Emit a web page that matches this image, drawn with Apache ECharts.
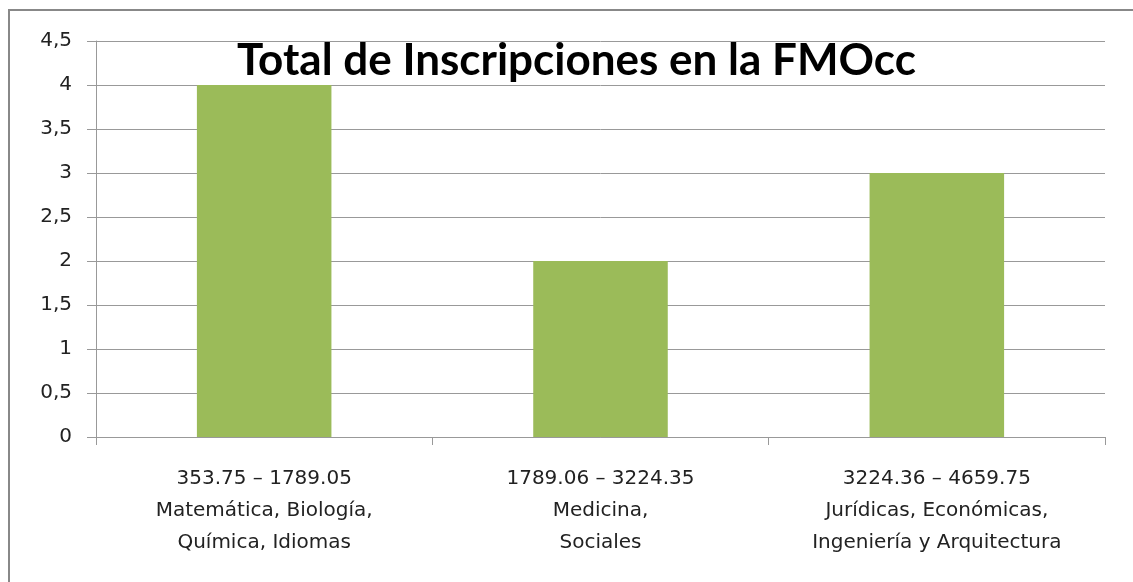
<!DOCTYPE html>
<html>
<head>
<meta charset="utf-8">
<script src="https://cdn.jsdelivr.net/npm/echarts@6/dist/echarts.min.js"></script>
<style>
  html, body { margin: 0; padding: 0; background: #fff; }
  #main { width: 1133px; height: 582px; }
</style>
</head>
<body>
<div id="main"></div>
<script>
const categories = [
  '353.75 – 1789.05\nMatemática, Biología,\nQuímica, Idiomas',
  '1789.06 – 3224.35\nMedicina,\nSociales',
  '3224.36 – 4659.75\nJurídicas, Económicas,\nIngeniería y Arquitectura'
]
const inscripciones = [4, 2, 3]

var myChart = echarts.init(document.getElementById('main'))

option = {
  animation: false,
  title: {
    text: 'Total de Inscripciones en la FMOcc',
    left: 232,
    top: 34,
    textStyle: {
      fontFamily: 'Lato',
      fontWeight: 'bold',
      fontSize: 44,
      color: '#000'
    }
  },
  graphic: [
    {
      type: 'rect',
      shape: { x: 9, y: 10, width: 1200, height: 620 },
      style: { fill: 'none', stroke: '#888', lineWidth: 2 },
      silent: true
    }
  ],
  grid: {
    left: 96,
    right: 28,
    top: 41,
    bottom: 145
  },
  xAxis: {
    type: 'category',
    data: categories,
    axisLine: { lineStyle: { color: '#999' } },
    axisTick: { show: true, length: 8, lineStyle: { color: '#999' } },
    axisLabel: {
      fontFamily: 'DejaVu Sans',
      fontSize: 20,
      color: '#222',
      lineHeight: 32,
      margin: 26
    }
  },
  yAxis: {
    type: 'value',
    min: 0,
    max: 4.5,
    interval: 0.5,
    axisLine: { show: true, lineStyle: { color: '#999' } },
    axisTick: { show: true, length: 9, lineStyle: { color: '#999' } },
    splitLine: { lineStyle: { color: '#999' } },
    axisLabel: {
      fontFamily: 'DejaVu Sans',
      fontSize: 20,
      color: '#222',
      margin: 24,
      formatter: function(v) { return String(v).replace('.', ',') }
    }
  },
  series: [
    {
      type: 'bar',
      data: inscripciones,
      barWidth: '40%',
      itemStyle: { color: '#9BBB59' }
    }
  ]
}

myChart.setOption(option)
</script>
</body>
</html>
